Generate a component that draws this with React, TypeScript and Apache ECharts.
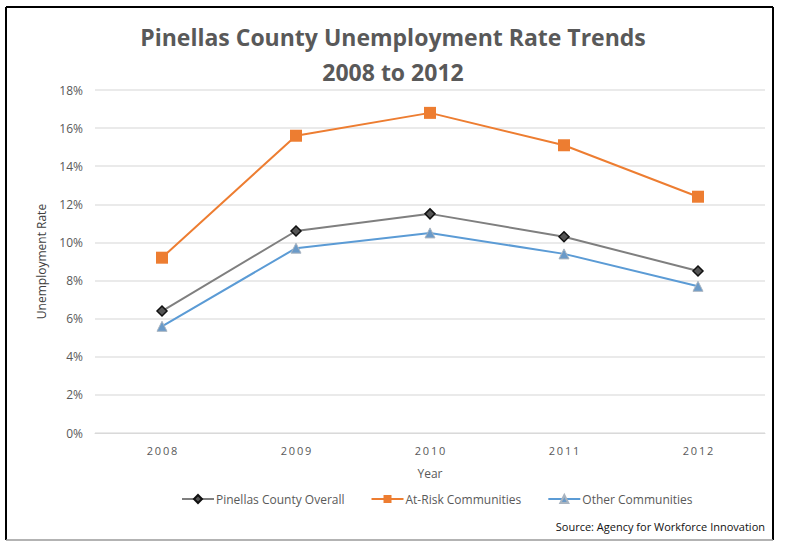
import React, { useEffect, useRef } from "react";
import * as echarts from "echarts";

const years = ["2008", "2009", "2010", "2011", "2012"];
const overall = [6.4, 10.6, 11.5, 10.3, 8.5];
const atRisk = [9.2, 15.6, 16.8, 15.1, 12.4];
const other = [5.6, 9.7, 10.5, 9.4, 7.7];
const yTicks = [0, 2, 4, 6, 8, 10, 12, 14, 16, 18];

const FONT = "'Open Sans', 'Liberation Sans', sans-serif";

export default function App() {
  const ref = useRef<HTMLDivElement>(null);
  useEffect(() => {
    if (!ref.current) return;
    const chart = echarts.init(ref.current, undefined, { renderer: "svg" });
    chart.setOption({
      animation: false,
      backgroundColor: "#ffffff",
      title: {
        text: "Pinellas County Unemployment Rate Trends\n2008 to 2012",
        left: "center",
        top: 14,
        textStyle: {
          fontFamily: FONT,
          fontSize: 23,
          fontWeight: "bold",
          color: "#595959",
          lineHeight: 35,
        },
      },
      graphic: [
        { type: "line", shape: { x1: 6, y1: 7, x2: 773, y2: 7 }, style: { stroke: "#000", lineWidth: 2 } },
        { type: "line", shape: { x1: 6, y1: 7, x2: 6, y2: 540 }, style: { stroke: "#000", lineWidth: 2 } },
        { type: "line", shape: { x1: 773, y1: 7, x2: 773, y2: 540 }, style: { stroke: "#000", lineWidth: 2 } },
        { type: "line", shape: { x1: 6, y1: 540, x2: 773, y2: 540 }, style: { stroke: "#9a9a9a", lineWidth: 1.5 } },
        {
          type: "text",
          right: 21,
          top: 521,
          style: {
            text: "Source: Agency for Workforce Innovation",
            fontFamily: FONT,
            fontSize: 11,
            fill: "#111",
          },
        },
      ],
      grid: { left: 95, right: 21, top: 90, bottom: 110, containLabel: false },
      legend: {
        top: 488,
        left: 176,
        itemGap: 26,
        itemWidth: 32,
        itemHeight: 10,
        textStyle: { fontFamily: FONT, fontSize: 12, color: "#595959", padding: [0, 0, 0, -3] },
        data: ["Pinellas County Overall", "At-Risk Communities", "Other Communities"],
      },
      xAxis: {
        type: "category",
        data: years,
        boundaryGap: true,
        name: "Year",
        nameLocation: "middle",
        nameGap: 34,
        nameTextStyle: { fontFamily: FONT, fontSize: 12, color: "#595959" },
        axisLine: { lineStyle: { color: "#d9d9d9", width: 1 } },
        axisTick: { show: false },
        axisLabel: {
          fontFamily: FONT,
          fontSize: 11,
          color: "#595959",
          margin: 12,
          formatter: (v: string) => v.split("").join("\u2009"),
        },
      },
      yAxis: {
        type: "value",
        min: yTicks[0],
        max: yTicks[yTicks.length - 1],
        interval: 2,
        name: "Unemployment Rate",
        nameLocation: "middle",
        nameGap: 48,
        nameTextStyle: { fontFamily: FONT, fontSize: 12, color: "#404040" },
        axisLine: { show: false },
        axisTick: { show: false },
        splitLine: { lineStyle: { color: "#e3e3e3", width: 1.5 } },
        axisLabel: {
          fontFamily: FONT,
          fontSize: 12,
          color: "#595959",
          margin: 12,
          formatter: (v: number) => v + "%",
        },
      },
      series: [
        {
          name: "Pinellas County Overall",
          type: "line",
          data: overall,
          symbol: "diamond",
          symbolSize: 10,
          lineStyle: { color: "#7f7f7f", width: 2 },
          itemStyle: { color: "#555555", borderColor: "#111111", borderWidth: 1.5 },
          z: 3,
        },
        {
          name: "At-Risk Communities",
          type: "line",
          data: atRisk,
          symbol: "rect",
          symbolSize: 12,
          lineStyle: { color: "#ED7D31", width: 2 },
          itemStyle: { color: "#ED7D31" },
          z: 2,
        },
        {
          name: "Other Communities",
          type: "line",
          data: other,
          symbol: "triangle",
          symbolSize: 10,
          lineStyle: { color: "#5B9BD5", width: 2 },
          itemStyle: { color: "#6a9ac8", borderColor: "#a9b4c0", borderWidth: 1 },
          z: 2,
        },
      ],
    });
    return () => chart.dispose();
  }, []);
  return (
    <div
      ref={ref}
      style={{ position: "absolute", left: 0, top: 0, width: 786, height: 543 }}
    />
  );
}
